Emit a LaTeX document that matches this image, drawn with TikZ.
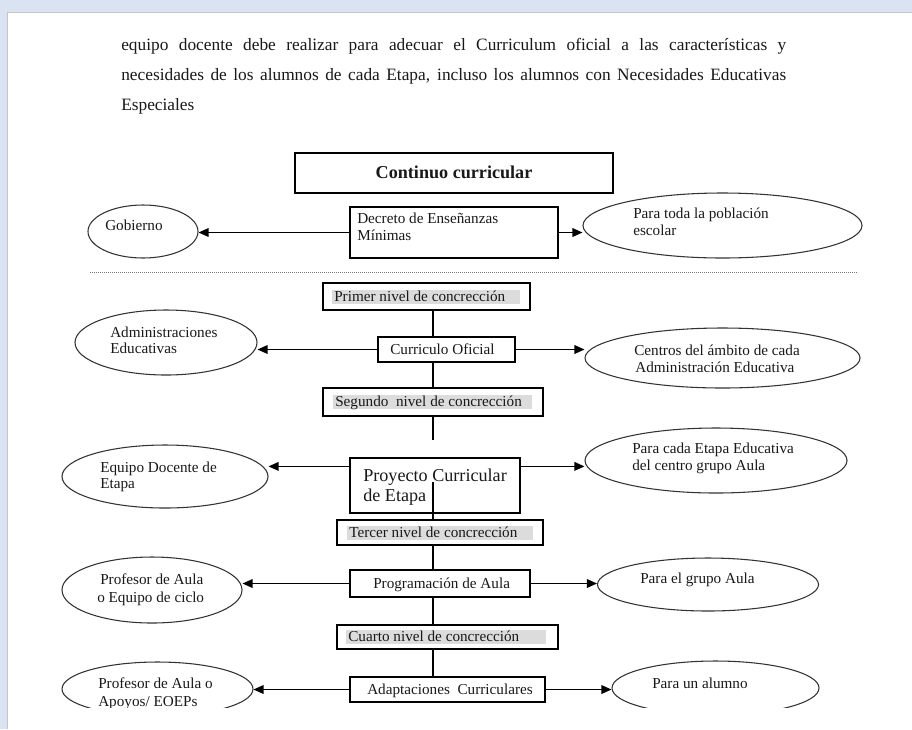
\documentclass[tikz,border=0pt]{standalone}
\usepackage{fontspec}
\setmainfont{Liberation Serif}
\usetikzlibrary{shapes.geometric,arrows.meta,calc}
\definecolor{bgblue}{HTML}{D9E3F1}
\definecolor{shadegray}{HTML}{DCDCDC}
\begin{document}
\begin{tikzpicture}[x=0.75pt,y=-0.75pt,
  sz/.style 2 args={minimum width=#1*0.75pt, minimum height=#2*0.75pt},
  box/.style={rectangle, draw=black, line width=0.9pt, fill=white, inner sep=0pt},
  ell/.style={ellipse, draw=black!80, line width=0.8pt, inner sep=0pt},
  arr/.style={line width=0.9pt, -{Triangle[length=7.5pt,width=6.5pt]}},
  vline/.style={line width=0.9pt},
  sm/.style={inner sep=0pt, text=black!90, font=\fontsize{11.4}{13}\selectfont},
  big/.style={inner sep=0pt, text=black!90, font=\fontsize{13.6}{15}\selectfont},
  para/.style={inner sep=0pt, text=black!90, font=\fontsize{13}{15}\selectfont},
]
\useasboundingbox (0,0) rectangle (912,729);
% page
\fill[bgblue] (0,0) rectangle (912,729);
\fill[white] (7,12) rectangle (912,729);

% paragraph
\node[para, anchor=base west] (p1) at (121,50) {\makebox[498.75pt][s]{equipo docente debe realizar para adecuar el Curriculum oficial a las características y}};
\node[para, anchor=base west] (p2) at (121,80) {\makebox[498.75pt][s]{necesidades de los alumnos de cada Etapa, incluso los alumnos con Necesidades Educativas}};
\node[para, anchor=base west] (p3) at (121,110) {Especiales};

% vertical axis
\coordinate (vx) at (433,0);
\coordinate (segend) at (433,440);
\coordinate (pin) at (433,482);

% boxes
\node[box, sz={318}{40}] (cont) at (454,173) {};
\node[box, sz={208}{51}] (dec) at (454,232.5) {};
\node[box, sz={207}{27}] (primer) at (426.5,296.5) {};
\node[box, sz={137}{25}] (curr) at (446.5,349.5) {};
\node[box, sz={220}{28}] (seg) at (433,402) {};
\node[box, sz={170}{55}] (proy) at (435,485.5) {};
\node[box, sz={206}{25}] (ter) at (440,532.5) {};
\node[box, sz={180}{27}] (prog) at (440,583.5) {};
\node[box, sz={221}{24}] (cua) at (447.5,637) {};
\node[box, sz={195}{25}] (adap) at (447.5,689.5) {};

% vertical connectors
\draw[vline] (primer.south -| vx) -- (curr.north -| vx);
\draw[vline] (curr.south -| vx) -- (seg.north -| vx);
\draw[vline] (seg.south -| vx) -- (segend);
\draw[vline] (pin) -- (ter.north -| vx);
\draw[vline] (ter.south -| vx) -- (prog.north -| vx);
\draw[vline] (prog.south -| vx) -- (cua.north -| vx);
\draw[vline] (cua.south -| vx) -- (adap.north -| vx);

% ellipses
\node[ell, sz={110}{53}] (gob) at (143,231.5) {};
\node[ell, sz={279}{65}] (pob) at (722.5,225.5) {};
\node[ell, sz={182}{65}] (adm) at (166,342.5) {};
\node[ell, sz={275}{60}] (cen) at (722.5,358) {};
\node[ell, sz={206}{63}] (equ) at (165,476.5) {};
\node[ell, sz={262}{65}] (eta) at (716,460.5) {};
\node[ell, sz={180}{66}] (prof) at (152,590) {};
\node[ell, sz={221}{53}] (gru) at (708,584.5) {};
\node[ell, sz={191}{54}] (apo) at (157.5,689) {};
\node[ell, sz={207}{54}] (alu) at (715.5,688) {};

% dotted separator
\coordinate (dl) at (90,272);
\coordinate (dr) at (858,272);
\draw[black!55, line width=0.7pt, dash pattern=on 0.7pt off 0.8pt] (dl) -- (dr);

% arrows
\draw[arr] (dec.west) -- (dec.west -| gob.east);
\draw[arr] (dec.east) -- (dec.east -| pob.west);
\draw[arr] (curr.west) -- (curr.west -| adm.east);
\draw[arr] (curr.east) -- (curr.east -| cen.west);
\coordinate (pyl) at ([yshift=-6.75pt]proy.north west);
\coordinate (pyr) at ([yshift=-6.75pt]proy.north east);
\draw[arr] (pyl) -- (pyl -| equ.east);
\draw[arr] (pyr) -- (pyr -| eta.west);
\draw[arr] (prog.west) -- (prog.west -| prof.east);
\draw[arr] (prog.east) -- (prog.east -| gru.west);
\draw[arr] (adap.west) -- (adap.west -| apo.east);
\draw[arr] (adap.east) -- (adap.east -| alu.west);

% shading in level boxes
\fill[shadegray] (332,290) rectangle (520,304);
\fill[shadegray] (333,395) rectangle (532,409);
\fill[shadegray] (347,526) rectangle (533,540);
\fill[shadegray] (346,630) rectangle (546,644);

% texts
\node[big, anchor=base, font=\fontsize{13.6}{15}\selectfont\bfseries] (tcont) at (454,178.5) {Continuo curricular};
\node[sm, anchor=base west] (tdec1) at (357,223) {Decreto de Enseñanzas};
\node[sm, anchor=base west] (tdec2) at (357,240) {Mínimas};
\node[sm, anchor=base west] (tgob) at (105,230) {Gobierno};
\node[sm, anchor=base west] (tpob1) at (633,218) {Para toda la población};
\node[sm, anchor=base west] (tpob2) at (633,235) {escolar};
\node[sm, anchor=base west] (tprim) at (334,301) {Primer nivel de concrección};
\node[sm, anchor=base west] (tadm1) at (110,337) {Administraciones};
\node[sm, anchor=base west] (tadm2) at (110,353) {Educativas};
\node[sm, anchor=base west] (tcurr) at (390,354) {Curriculo Oficial};
\node[sm, anchor=base west] (tcen1) at (634,355) {Centros del ámbito de cada};
\node[sm, anchor=base west] (tcen2) at (635,372) {Administración Educativa};
\node[sm, anchor=base west] (tseg) at (335,406) {Segundo\ \ nivel de concrección};
\node[sm, anchor=base west] (tequ1) at (100,472) {Equipo Docente de};
\node[sm, anchor=base west] (tequ2) at (100,488) {Etapa};
\node[big, anchor=base west] (tproy1) at (363,481) {Proyecto Curricular};
\node[big, anchor=base west] (tproy2) at (363,501) {de Etapa};
\node[sm, anchor=base west] (teta1) at (632,453) {Para cada Etapa Educativa};
\node[sm, anchor=base west] (teta2) at (632,470) {del centro grupo Aula};
\node[sm, anchor=base west] (tter) at (349,537) {Tercer nivel de concrección};
\node[sm, anchor=base west] (tprof1) at (100,584) {Profesor de Aula};
\node[sm, anchor=base west] (tprof2) at (97,602) {o Equipo de ciclo};
\node[sm, anchor=base west] (tprog) at (373,588) {Programación de Aula};
\node[sm, anchor=base west] (tgru) at (640,583) {Para el grupo Aula};
\node[sm, anchor=base west] (tcua) at (348,641) {Cuarto nivel de concrección};
\node[sm, anchor=base west] (tadap) at (367,694) {Adaptaciones\ \ Curriculares};
\node[sm, anchor=base west] (tapo1) at (98,688) {Profesor de Aula o};
\node[sm, anchor=base west] (tapo2) at (98,706) {Apoyos/ EOEPs};
\node[sm, anchor=base west] (talu) at (652,688) {Para un alumno};

% bottom cut
\fill[white] (7,708) rectangle (912,729);
\draw[gray!45, line width=0.6pt] (7,729) -- (7,12) -- (912,12);
\end{tikzpicture}
\end{document}
